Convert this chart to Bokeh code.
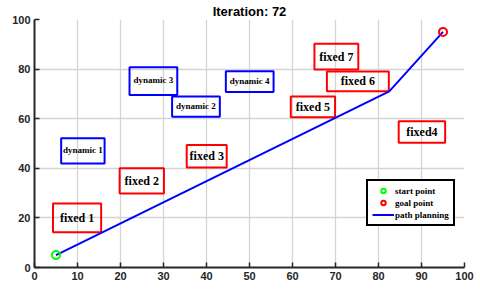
from bokeh.plotting import figure
from bokeh.models import Range1d, Legend, LegendItem, FixedTicker, ColumnDataSource
from bokeh.core.properties import value
from bokeh.embed import file_html
from bokeh.resources import INLINE

# ---------------- data ----------------
title_text = "Iteration: 72"
x_ticks = [0, 10, 20, 30, 40, 50, 60, 70, 80, 90, 100]
y_ticks = [0, 20, 40, 60, 80, 100]

path_x = [5, 82.5, 95]
path_y = [5, 71, 95]
start_x = [5]
start_y = [5]
goal_x = [95]
goal_y = [95]

fixed_names = ["fixed 1", "fixed 2", "fixed 3", "fixed4", "fixed 5", "fixed 6", "fixed 7"]
fixed_left = [4.3, 19.8, 35.4, 84.7, 59.6, 68.0, 65.1]
fixed_right = [15.5, 30.1, 44.7, 95.5, 69.9, 82.4, 75.3]
fixed_bottom = [14.2, 29.8, 40.3, 50.3, 60.6, 71.1, 79.8]
fixed_top = [25.8, 40.0, 49.4, 59.0, 69.0, 79.0, 90.2]

dyn_names = ["dynamic 1", "dynamic 2", "dynamic 3", "dynamic 4"]
dyn_left = [6.2, 32.0, 22.1, 44.5]
dyn_right = [16.3, 43.1, 33.2, 55.6]
dyn_bottom = [41.9, 60.8, 69.6, 70.8]
dyn_top = [52.1, 69.0, 80.7, 79.1]

legend_labels = ["start point", "goal point", "path planning"]

# ---------------- figure ----------------
p = figure(width=480, height=298, output_backend="svg", toolbar_location=None,
           x_range=Range1d(0, 100), y_range=Range1d(0, 100), title=title_text,
           min_border_left=34, min_border_right=16, min_border_top=18, min_border_bottom=31)
p.outline_line_color = None
p.background_fill_color = "white"
p.border_fill_color = "white"

p.title.align = "center"
p.title.text_font = "Liberation Sans"
p.title.text_font_style = "bold"
p.title.text_font_size = "13px"
p.title.text_color = "black"
p.title.standoff = 2
p.title.text_line_height = 1.0

for ax, ticks in ((p.xaxis, x_ticks), (p.yaxis, y_ticks)):
    ax.ticker = FixedTicker(ticks=ticks)
    ax.minor_tick_line_color = None
    ax.major_tick_in = 5
    ax.major_tick_out = 0
    ax.major_tick_line_width = 1.5
    ax.major_tick_line_color = "#262626"
    ax.axis_line_width = 2
    ax.axis_line_color = "#262626"
    ax.major_label_text_font = "Liberation Sans"
    ax.major_label_text_font_style = "bold"
    ax.major_label_text_font_size = "11px"
    ax.major_label_text_color = "#262626"
    ax.major_label_standoff = 4

p.xgrid.ticker = FixedTicker(ticks=x_ticks)
p.ygrid.ticker = FixedTicker(ticks=y_ticks)
p.grid.grid_line_color = "#d4d4d4"
p.grid.grid_line_width = 1.3

# obstacles
fsrc = ColumnDataSource(dict(
    name=fixed_names, left=fixed_left, right=fixed_right, bottom=fixed_bottom, top=fixed_top,
    cx=[(a + b) / 2 for a, b in zip(fixed_left, fixed_right)],
    cy=[(a + b) / 2 for a, b in zip(fixed_bottom, fixed_top)]))
dsrc = ColumnDataSource(dict(
    name=dyn_names, left=dyn_left, right=dyn_right, bottom=dyn_bottom, top=dyn_top,
    cx=[(a + b) / 2 for a, b in zip(dyn_left, dyn_right)],
    cy=[(a + b) / 2 for a, b in zip(dyn_bottom, dyn_top)]))

p.quad(left="left", right="right", bottom="bottom", top="top", source=fsrc,
       fill_color=None, line_color="#ff0000", line_width=2)
p.quad(left="left", right="right", bottom="bottom", top="top", source=dsrc,
       fill_color=None, line_color="#0000ff", line_width=2)
p.text(x="cx", y="cy", text="name", source=fsrc, text_align="center", text_baseline="middle",
       text_font=value("Liberation Serif"), text_font_style="bold", text_font_size="12px",
       text_color="black")
p.text(x="cx", y="cy", text="name", source=dsrc, text_align="center", text_baseline="middle",
       y_offset=-1,
       text_font=value("Liberation Serif"), text_font_style="bold", text_font_size="9px",
       text_color="black")

# path and points
r_path = p.line(path_x, path_y, line_color="#0000ff", line_width=2)
r_start = p.scatter(start_x, start_y, marker="circle", size=8, fill_color=None,
                    line_color="#00ff00", line_width=2)
r_goal = p.scatter(goal_x, goal_y, marker="circle", size=8, fill_color=None,
                   line_color="#ff0000", line_width=2)

legend = Legend(items=[LegendItem(label=legend_labels[0], renderers=[r_start]),
                       LegendItem(label=legend_labels[1], renderers=[r_goal]),
                       LegendItem(label=legend_labels[2], renderers=[r_path])],
                location=(332, 41))
legend.border_line_color = "black"
legend.border_line_width = 2
legend.border_line_alpha = 1.0
legend.background_fill_color = "white"
legend.background_fill_alpha = 1
legend.padding = 4
legend.spacing = 1
legend.margin = 0
legend.glyph_width = 22
legend.glyph_height = 11
legend.label_height = 11
legend.label_standoff = 1
legend.label_text_font = "Liberation Serif"
legend.label_text_font_style = "bold"
legend.label_text_font_size = "9px"
legend.label_text_color = "black"
p.add_layout(legend)

open("out.html", "w").write(file_html(p, INLINE))
